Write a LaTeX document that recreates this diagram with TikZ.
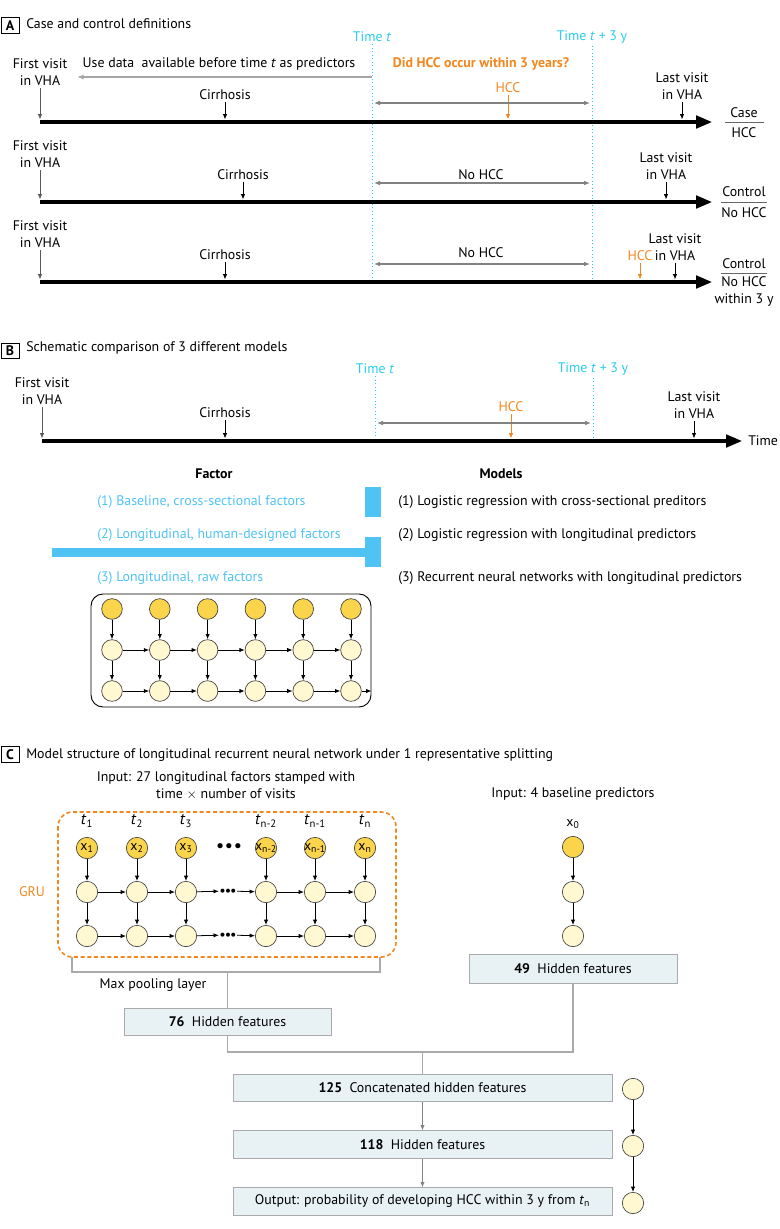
\documentclass[tikz,border=0pt]{standalone}
\usepackage{fontspec}
\setmainfont{PT Sans}
\usetikzlibrary{arrows.meta,positioning}
\definecolor{timecyan}{RGB}{40,205,235}
\definecolor{hccorange}{RGB}{242,135,30}
\definecolor{factorblue}{RGB}{80,195,245}
\definecolor{cellgold}{RGB}{250,212,75}
\definecolor{cellpale}{RGB}{255,248,208}
\definecolor{boxfill}{RGB}{232,242,245}
\definecolor{boxline}{RGB}{170,170,170}
\definecolor{arrowgray}{RGB}{130,130,130}
\begin{document}
\begin{tikzpicture}[x=0.75pt,y=-0.75pt,
  font=\fontsize{10.4}{12.75}\selectfont,
  every node/.style={inner sep=1.5pt},
  axis/.style={line width=2.3pt,-{Triangle[length=12pt,width=9.5pt]}},
  tick/.style={line width=0.6pt,-{Latex[length=4pt,width=3.2pt]}},
  gtick/.style={tick,draw=black!65},
  dbl/.style={line width=0.8pt,draw=arrowgray,shorten <=1.5pt,shorten >=1.5pt,
    {Latex[length=4.5pt,width=3.5pt]}-{Latex[length=4.5pt,width=3.5pt]}},
  vdot/.style={draw=timecyan,dotted,line width=0.6pt},
  two/.style={align=center},
  timelbl/.style={text=timecyan},
  hcc/.style={text=hccorange},
  panel/.style={draw,line width=0.6pt,font=\fontsize{10.4}{12}\selectfont\bfseries,
    minimum width=13.5pt,minimum height=11.5pt,inner sep=0pt},
  factor/.style={anchor=west,text=factorblue},
  model/.style={anchor=west},
  gold/.style={circle,draw=black!75,fill=cellgold,line width=0.5pt,minimum size=16pt,inner sep=0pt},
  pale/.style={gold,fill=cellpale},
  fbox/.style={draw=boxline,fill=boxfill,line width=0.7pt,minimum height=20.5pt,inner sep=0pt},
  linkline/.style={draw=boxline,line width=0.9pt}]
\useasboundingbox (0,0) rectangle (780,1229);

% ---------- A: case and control definitions
\node[panel] (boxA) at (10,25.5) {A};
\node[anchor=west] (titleA) at (24,24) {Case and control definitions};
\node[timelbl] (tA) at (372,37) {Time \textit{t}};
\node[timelbl] (t3A) at (592,37) {Time \textit{t} + 3 y};
\coordinate (vA) at (0,282);
\draw[vdot] (tA) -- (tA |- vA);
\draw[vdot] (t3A) -- (t3A |- vA);

% row 1
\coordinate (r1s) at (40,122); \coordinate (r1e) at (712,122); \coordinate (r1t) at (0,119.5);
\draw[axis] (r1s) -- (r1e);
\node[two] (r1fv) at (40,72.5) {First visit\\in VHA};
\draw[gtick] (r1fv) -- (r1fv |- r1t);
\node (r1use) at (219,64) {Use data \ available before time \textit{t} as predictors};
\coordinate (r1u) at (77,77);
\draw[draw=black!35,line width=1pt,-{Latex[length=5pt,width=4pt]}] (tA |- r1u) -- (r1u);
\node (r1c) at (225,95) {Cirrhosis};
\draw[tick] (r1c) -- (r1c |- r1t);
\node[hcc,font=\fontsize{10.4}{12}\selectfont\bfseries] (r1q) at (481,64) {Did HCC occur within 3 years?};
\node[hcc] (r1h) at (508,88) {HCC};
\draw[tick,draw=hccorange] (r1h) -- (r1h |- r1t);
\coordinate (r1d) at (0,103);
\draw[dbl] (tA |- r1d) -- (t3A |- r1d);
\node[two] (r1lv) at (682,86.5) {Last visit\\in VHA};
\draw[tick] (r1lv) -- (r1lv |- r1t);
\node (r1k) at (744,113) {Case};
\node (r1kh) at (744,133) {HCC};
\draw[black!60,line width=0.6pt] (725,122) -- (764,122);

% row 2
\coordinate (r2s) at (40,202); \coordinate (r2e) at (712,202); \coordinate (r2t) at (0,199.5);
\draw[axis] (r2s) -- (r2e);
\node[two] (r2fv) at (40,154.5) {First visit\\in VHA};
\draw[gtick] (r2fv) -- (r2fv |- r2t);
\node (r2c) at (243,175) {Cirrhosis};
\draw[tick] (r2c) -- (r2c |- r2t);
\node (r2n) at (481,175) {No HCC};
\coordinate (r2d) at (0,183);
\draw[dbl] (tA |- r2d) -- (t3A |- r2d);
\node[two] (r2lv) at (666,166.5) {Last visit\\in VHA};
\draw[tick] (r2lv) -- (r2lv |- r2t);
\node (r2k) at (744,192) {Control};
\node (r2kh) at (744,212.5) {No HCC};
\draw[black!60,line width=0.6pt] (721,202) -- (767,202);

% row 3
\coordinate (r3s) at (40,282); \coordinate (r3e) at (712,282); \coordinate (r3t) at (0,279.5);
\draw[axis] (r3s) -- (r3e);
\node[two] (r3fv) at (40,234) {First visit\\in VHA};
\draw[gtick] (r3fv) -- (r3fv |- r3t);
\node (r3c) at (225,255) {Cirrhosis};
\draw[tick] (r3c) -- (r3c |- r3t);
\node (r3n) at (481,253) {No HCC};
\coordinate (r3d) at (0,264);
\draw[dbl] (tA |- r3d) -- (t3A |- r3d);
\node[hcc] (r3h) at (640,256) {HCC};
\draw[tick,draw=hccorange] (r3h) -- (r3h |- r3t);
\node[two] (r3lv) at (675,247) {Last visit\\in VHA};
\draw[tick] (r3lv) -- (r3lv |- r3t);
\node (r3k) at (744,264) {Control};
\node[two] (r3kh) at (744,291.5) {No HCC\\within 3 y};
\draw[black!60,line width=0.6pt] (721,273) -- (767,273);

% ---------- B: schematic comparison
\node[panel] (boxB) at (10,351) {B};
\node[anchor=west] (titleB) at (24,348) {Schematic comparison of 3 different models};
\node[timelbl] (tB) at (375,369) {Time \textit{t}};
\node[timelbl] (t3B) at (593,369) {Time \textit{t} + 3 y};
\coordinate (vB) at (0,441);
\draw[vdot] (tB) -- (tB |- vB);
\draw[vdot] (t3B) -- (t3B |- vB);
\coordinate (bs) at (42,441); \coordinate (be) at (742,441); \coordinate (bt) at (0,438.5);
\draw[axis] (bs) -- (be);
\node[anchor=west] (btime) at (746,441) {Time};
\node[two] (bfv) at (42,391.5) {First visit\\in VHA};
\draw[gtick] (bfv) -- (bfv |- bt);
\node (bc) at (225,413) {Cirrhosis};
\draw[tick] (bc) -- (bc |- bt);
\node[hcc] (bh) at (511,407) {HCC};
\draw[tick,draw=hccorange] (bh) -- (bh |- bt);
\coordinate (bd) at (0,423);
\draw[dbl] (tB |- bd) -- (t3B |- bd);
\node[two] (blv) at (694,405.5) {Last visit\\in VHA};
\draw[tick] (blv) -- (blv |- bt);

\node[font=\fontsize{10.4}{12}\selectfont\bfseries] (factor) at (214,474) {Factor};
\node[font=\fontsize{10.4}{12}\selectfont\bfseries] (models) at (501,474) {Models};
\node[factor] (f1) at (95,502) {(1) Baseline, cross-sectional factors};
\node[factor] (f2) at (95,535) {(2) Longitudinal, human-designed factors};
\node[factor] (f3) at (95,578) {(3) Longitudinal, raw factors};
\node[model] (m1) at (396,502) {(1) Logistic regression with cross-sectional preditors};
\node[model] (m2) at (396,535) {(2) Logistic regression with longitudinal predictors};
\node[model] (m3) at (396,578) {(3) Recurrent neural networks with longitudinal predictors};
\fill[factorblue] (365,487) rectangle (381,517);
\fill[factorblue] (52,548) rectangle (381,557);
\fill[factorblue] (365,537) rectangle (381,567);

\node[draw,line width=0.7pt,rounded corners=9pt,minimum width=210pt,minimum height=84.75pt] (rnn) at (231,650.5) {};
\foreach \i in {0,...,5} {
  \node[gold,minimum size=15.5pt] (bx\i) at (112+47.8*\i,609) {};
  \node[pale,minimum size=15.5pt] (bm\i) at (112+47.8*\i,650) {};
  \node[pale,minimum size=15.5pt] (bb\i) at (112+47.8*\i,691) {};
  \draw[tick] (bx\i) -- (bm\i);
  \draw[tick] (bm\i) -- (bb\i);
}
\foreach \a/\b in {0/1,1/2,2/3,3/4,4/5} {
  \draw[tick] (bm\a) -- (bm\b);
  \draw[tick] (bb\a) -- (bb\b);
}
\draw[tick] (bb5) -- (bb5 -| rnn.east);

% ---------- C: model structure
\node[panel] (boxC) at (10,754.5) {C};
\node[anchor=west] (titleC) at (24,755) {Model structure of longitudinal recurrent neural network under 1 representative splitting};
\node[two] (inL) at (226,785.5) {Input: 27 longitudinal factors stamped with\\time $\times$ number of visits};
\node (inB) at (573,794) {Input: 4 baseline predictors};

\draw[hccorange,line width=1.2pt,dash pattern=on 3pt off 2pt,rounded corners=11pt] (58,812) rectangle (396,957);
\node[hcc] (gru) at (32,892) {GRU};

\foreach \i/\x/\s in {1/87/1,2/137/2,3/186/3,4/266/n-2,5/315/n-1,6/365/n} {
  \node[font=\fontsize{12}{13}\selectfont] (t\i) at (\x,821) {\textit{t}\textsubscript{\s}};
  \node[gold] (x\i) at (\x,848) {};
  \node at (x\i) {x\textsubscript{\s}};
  \node[pale] (h\i) at (\x,892) {};
  \node[pale] (g\i) at (\x,936) {};
  \draw[tick] (x\i) -- (h\i);
  \draw[tick] (h\i) -- (g\i);
}
\foreach \a/\b in {1/2,2/3,4/5,5/6} {
  \draw[tick] (h\a) -- (h\b);
  \draw[tick] (g\a) -- (g\b);
}
\node[font=\fontsize{10}{10}\selectfont] (xd) at (229,847) {$\bullet$\,$\bullet$\,$\bullet$};
\node[font=\fontsize{7}{8}\selectfont,inner sep=0.5pt] (hd) at (228,891) {$\bullet$$\bullet$$\bullet$};
\node[font=\fontsize{7}{8}\selectfont,inner sep=0.5pt] (gd) at (228,935) {$\bullet$$\bullet$$\bullet$};
\draw[tick] (h3) -- (hd);
\draw[tick] (hd) -- (h4);
\draw[tick] (g3) -- (gd);
\draw[tick] (gd) -- (g4);

% max pooling
\coordinate (mpl) at (72,957); \coordinate (mpr) at (380,957); \coordinate (mpb) at (0,972);
\draw[linkline] (mpl) -- (mpl |- mpb) -- (mpr |- mpb) -- (mpr);
\node (mpool) at (153,985) {Max pooling layer};
\node[fbox,minimum width=155.25pt] (h76) at (227.5,1022) {\textbf{76}\ \ Hidden features};
\draw[linkline] (h76 |- mpb) -- (h76);

% baseline branch
\node (x0l) at (573,824) {x\textsubscript{0}};
\node[gold] (x0) at (573,847) {};
\node[pale] (y0) at (573,892) {};
\node[pale] (z0) at (573,936) {};
\draw[tick] (x0) -- (y0);
\draw[tick] (y0) -- (z0);
\node[fbox,minimum width=156pt,minimum height=21.75pt] (h49) at (573,968.5) {\textbf{49}\ \ Hidden features};

% concatenation and output
\node[fbox,minimum width=284.25pt] (h125) at (422.5,1088) {\textbf{125}\ \ Concatenated hidden features};
\node[fbox,minimum width=284.25pt] (h118) at (422.5,1144.5) {\textbf{118}\ \ Hidden features};
\node[fbox,minimum width=284.25pt] (hout) at (422.5,1201.5) {Output: probability of developing HCC within 3 y from \textit{t}\textsubscript{n}};
\coordinate (jn) at (0,1052);
\draw[linkline] (h76) -- (h76 |- jn) -- (h49 |- jn) -- (h49);
\draw[linkline] (h125 |- jn) -- (h125);
\draw[tick,draw=arrowgray] (h125) -- (h118);
\draw[tick,draw=arrowgray] (h118) -- (hout);
\node[pale] (o1) at (633,1089) {};
\node[pale] (o2) at (633,1146) {};
\node[pale] (o3) at (633,1203) {};
\draw[tick] (o1) -- (o2);
\draw[tick] (o2) -- (o3);
\end{tikzpicture}
\end{document}
